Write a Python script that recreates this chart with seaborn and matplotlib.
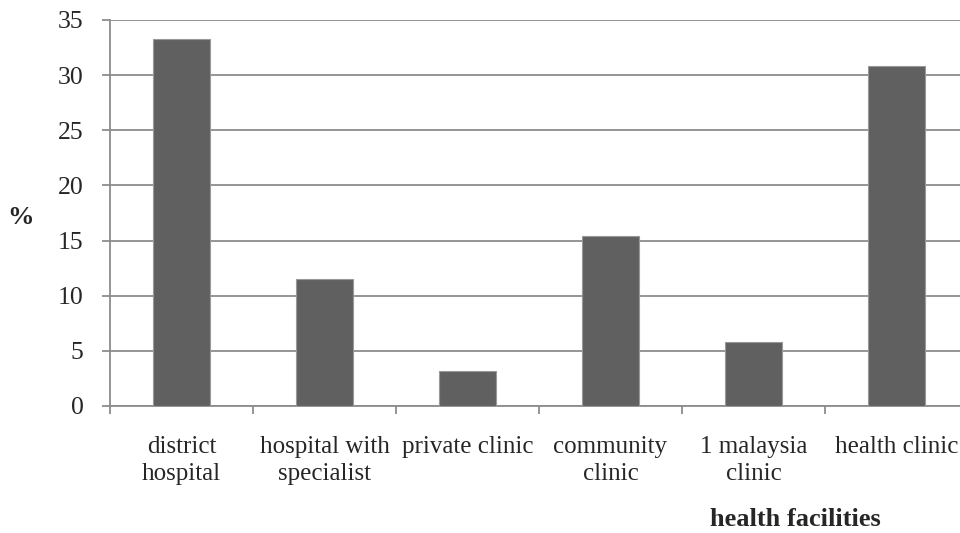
import pandas as pd
import seaborn as sns
import matplotlib.pyplot as plt

facilities = ["district\nhospital", "hospital with\nspecialist", "private clinic",
              "community\nclinic", "1 malaysia\nclinic", "health clinic"]
percent = [33.3, 11.5, 3.2, 15.4, 5.8, 30.8]
y_ticks = [0, 5, 10, 15, 20, 25, 30, 35]

df = pd.DataFrame({"facility": facilities, "percent": percent})

sns.set_style("white")
plt.rcParams["font.family"] = ["Liberation Serif", "DejaVu Serif"]

fig = plt.figure(figsize=(9.6, 5.33), dpi=100)
# axes runs slightly past the right edge, as in the original
ax = fig.add_axes([110 / 960, 1 - 406 / 533, 858 / 960, 386 / 533])

sns.barplot(data=df, x="facility", y="percent", color="#606060", width=0.4,
            edgecolor="#999999", linewidth=0.8, saturation=1, ax=ax, zorder=3)

ax.set_xlim(-0.5, len(facilities) - 0.5)
ax.set_ylim(0, 35)
ax.set_yticks(y_ticks)
ax.yaxis.grid(True, color="#8c8c8c", linewidth=1.3, zorder=0)
ax.set_axisbelow(True)

for side in ["top", "right"]:
    ax.spines[side].set_visible(False)
ax.spines["left"].set_color("#8c8c8c")
ax.spines["bottom"].set_color("#8c8c8c")
ax.spines["left"].set_linewidth(1.3)
ax.spines["bottom"].set_linewidth(1.3)

# y ticks on the left, x ticks between categories
ax.tick_params(axis="y", which="major", left=True, length=6, width=1.3,
               color="#8c8c8c", labelsize=18.5, pad=13)
ax.set_xticks([i + 0.5 for i in range(-1, len(facilities))], minor=True)
ax.tick_params(axis="x", which="minor", bottom=True, length=6, width=1.3,
               color="#8c8c8c")
ax.tick_params(axis="x", which="major", bottom=False, labelsize=18, pad=18)
ax.set_xticklabels(facilities, linespacing=1.3)

ax.set_xlabel("")
ax.set_ylabel("")
fig.text(20 / 960, 1 - 218 / 533, "%", fontsize=19, fontweight="bold",
         ha="center", va="center")
fig.text(795 / 960, 1 - 519 / 533, "health facilities", fontsize=19,
         fontweight="bold", ha="center", va="center")

fig.savefig("out.png", dpi=100)
plt.close(fig)
